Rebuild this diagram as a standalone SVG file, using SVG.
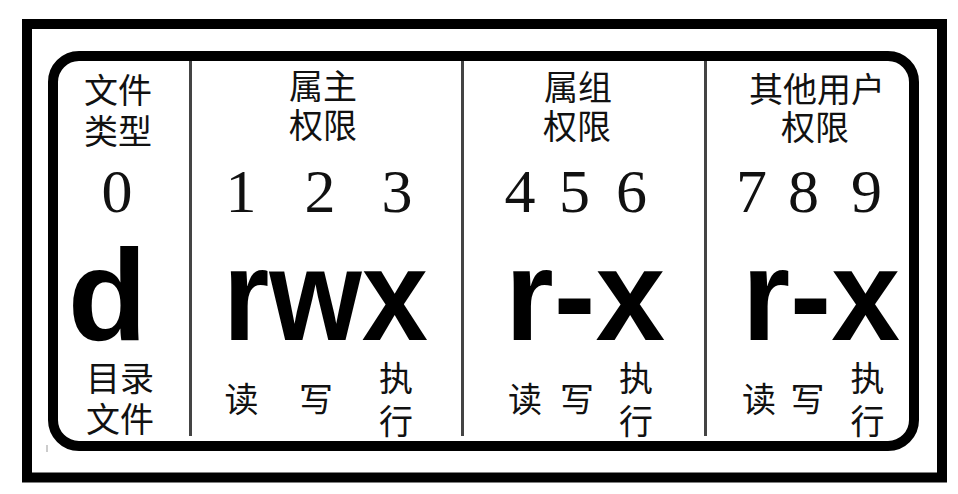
<svg xmlns="http://www.w3.org/2000/svg" width="958" height="494" viewBox="0 0 958 494">
<style>
.cn{font-family:"Noto Sans CJK SC","Noto Sans",sans-serif;font-size:34px;fill:#111;text-anchor:middle}
.num{font-family:"Liberation Serif","Times New Roman",serif;font-size:62px;fill:#111;text-anchor:middle}
.big{font-family:"Liberation Sans",Arial,sans-serif;font-weight:bold;font-size:130px;fill:#000;text-anchor:middle}
.div{stroke:#444;stroke-width:3}
</style>
<rect width="958" height="494" fill="#fff"/>
<g id="frame">
<rect x="27" y="24" width="915" height="453.5" fill="none" stroke="#000" stroke-width="10"/>
<rect x="53" y="56" width="861" height="390" rx="26" ry="26" fill="none" stroke="#000" stroke-width="10"/>
<line x1="47" y1="445" x2="47" y2="452" stroke="#999" stroke-width="1"/>
</g>
<g id="dividers">
<line class="div" x1="190.5" y1="61" x2="190.5" y2="436"/>
<line class="div" x1="462.5" y1="61" x2="462.5" y2="436"/>
<line class="div" x1="705.5" y1="61" x2="705.5" y2="436"/>
</g>
<g id="col-type">
<text class="cn" x="118" y="103">文件</text>
<text class="cn" x="118" y="144">类型</text>
<text class="num" x="117" y="212">0</text>
<text class="big" x="107.5" y="340">d</text>
<text class="cn" x="120" y="391">目录</text>
<text class="cn" x="120" y="432">文件</text>
</g>
<g id="col-owner">
<text class="cn" x="323" y="99">属主</text>
<text class="cn" x="323" y="138">权限</text>
<text class="num" x="241" y="212">1</text>
<text class="num" x="320" y="212">2</text>
<text class="num" x="397" y="212">3</text>
<text class="big" x="325.5" y="340" textLength="205" lengthAdjust="spacingAndGlyphs">rwx</text>
<text class="cn" x="241.5" y="412">读</text>
<text class="cn" x="316" y="412">写</text>
<text class="cn" x="396" y="391">执</text>
<text class="cn" x="396" y="434">行</text>
</g>
<g id="col-group">
<text class="cn" x="578" y="100">属组</text>
<text class="cn" x="577" y="139">权限</text>
<text class="num" x="520" y="212">4</text>
<text class="num" x="574.5" y="212">5</text>
<text class="num" x="631.5" y="212">6</text>
<text class="big" x="585" y="340" textLength="160" lengthAdjust="spacingAndGlyphs">r-x</text>
<text class="cn" x="525" y="412">读</text>
<text class="cn" x="577" y="412">写</text>
<text class="cn" x="636" y="391">执</text>
<text class="cn" x="636" y="434">行</text>
</g>
<g id="col-other">
<text class="cn" x="817" y="102">其他用户</text>
<text class="cn" x="815" y="140">权限</text>
<text class="num" x="751.5" y="212">7</text>
<text class="num" x="803.5" y="212">8</text>
<text class="num" x="866.5" y="212">9</text>
<text class="big" x="821" y="340" textLength="158" lengthAdjust="spacingAndGlyphs">r-x</text>
<text class="cn" x="759" y="412">读</text>
<text class="cn" x="807.5" y="412">写</text>
<text class="cn" x="867.5" y="391">执</text>
<text class="cn" x="867.5" y="434">行</text>
</g>
</svg>
